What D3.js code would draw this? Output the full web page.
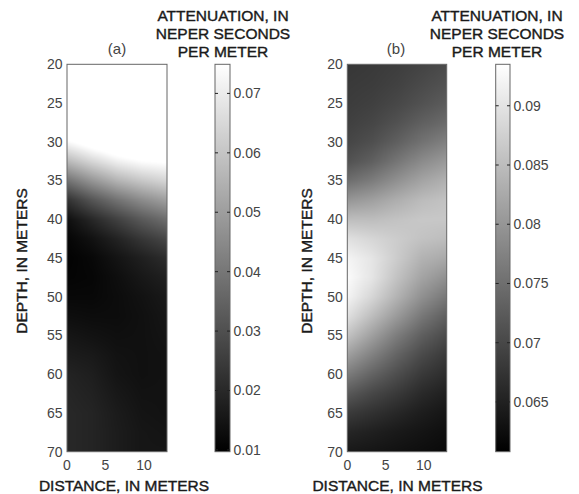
<!DOCTYPE html>
<html><head><meta charset="utf-8">
<script src="https://cdn.jsdelivr.net/npm/d3@7"></script>
<style>body{margin:0;background:#fff} text{font-family:"Liberation Sans",Arial,sans-serif}</style>
</head><body><svg id="c" width="579" height="494"></svg>
<script>
// ---- data ----
const distances = [0, 3.25, 6.5, 9.75, 13];
const depths = [20, 22.5, 25, 27.5, 30, 32.5, 35, 37.5, 40, 42.5, 45, 47.5, 50, 52.5, 55, 57.5, 60, 62.5, 65, 67.5, 70];
const attenA = [
  [0.0900, 0.0900, 0.0900, 0.0900, 0.0900],
  [0.0900, 0.0900, 0.0900, 0.0900, 0.0900],
  [0.0900, 0.0900, 0.0900, 0.0900, 0.0900],
  [0.0900, 0.0900, 0.0900, 0.0900, 0.0900],
  [0.0737, 0.0801, 0.0852, 0.0891, 0.0916],
  [0.0571, 0.0648, 0.0712, 0.0750, 0.0763],
  [0.0391, 0.0481, 0.0558, 0.0609, 0.0648],
  [0.0225, 0.0315, 0.0391, 0.0456, 0.0507],
  [0.0135, 0.0199, 0.0263, 0.0327, 0.0379],
  [0.0110, 0.0143, 0.0187, 0.0238, 0.0281],
  [0.0102, 0.0117, 0.0148, 0.0179, 0.0212],
  [0.0107, 0.0112, 0.0133, 0.0158, 0.0179],
  [0.0117, 0.0117, 0.0128, 0.0143, 0.0161],
  [0.0133, 0.0128, 0.0128, 0.0138, 0.0153],
  [0.0153, 0.0143, 0.0135, 0.0138, 0.0148],
  [0.0169, 0.0161, 0.0143, 0.0138, 0.0143],
  [0.0187, 0.0174, 0.0148, 0.0138, 0.0143],
  [0.0194, 0.0182, 0.0158, 0.0143, 0.0143],
  [0.0199, 0.0189, 0.0166, 0.0148, 0.0143],
  [0.0199, 0.0189, 0.0169, 0.0153, 0.0148],
  [0.0199, 0.0189, 0.0169, 0.0153, 0.0153]
];
const attenB = [
  [0.0678, 0.0682, 0.0687, 0.0695, 0.0704],
  [0.0682, 0.0685, 0.0692, 0.0703, 0.0713],
  [0.0685, 0.0690, 0.0700, 0.0713, 0.0726],
  [0.0690, 0.0698, 0.0713, 0.0731, 0.0746],
  [0.0698, 0.0710, 0.0731, 0.0755, 0.0774],
  [0.0713, 0.0731, 0.0759, 0.0787, 0.0806],
  [0.0749, 0.0768, 0.0794, 0.0819, 0.0836],
  [0.0800, 0.0813, 0.0832, 0.0849, 0.0858],
  [0.0851, 0.0851, 0.0858, 0.0864, 0.0864],
  [0.0896, 0.0883, 0.0870, 0.0858, 0.0851],
  [0.0922, 0.0902, 0.0870, 0.0838, 0.0826],
  [0.0931, 0.0902, 0.0858, 0.0819, 0.0794],
  [0.0922, 0.0883, 0.0838, 0.0794, 0.0762],
  [0.0896, 0.0851, 0.0806, 0.0762, 0.0730],
  [0.0858, 0.0813, 0.0768, 0.0730, 0.0704],
  [0.0813, 0.0774, 0.0736, 0.0704, 0.0682],
  [0.0768, 0.0736, 0.0708, 0.0682, 0.0666],
  [0.0723, 0.0700, 0.0682, 0.0662, 0.0649],
  [0.0685, 0.0672, 0.0659, 0.0646, 0.0636],
  [0.0657, 0.0649, 0.0641, 0.0634, 0.0627],
  [0.0640, 0.0636, 0.0631, 0.0626, 0.0621]
];
const xTicks = [0, 5, 10];
const yTicks = [20, 25, 30, 35, 40, 45, 50, 55, 60, 65, 70];
const cbTicksA = [0.01, 0.02, 0.03, 0.04, 0.05, 0.06, 0.07];
const cbTicksB = [0.065, 0.07, 0.075, 0.08, 0.085, 0.09];
const cbDomainA = [0.0097, 0.0749];
const cbDomainB = [0.0608, 0.0935];
const panelLabels = ["(a)", "(b)"];
const cbTitle = ["ATTENUATION, IN", "NEPER SECONDS", "PER METER"];
const xTitle = "DISTANCE, IN METERS";
const yTitle = "DEPTH, IN METERS";

// ---- layout ----
const plotTop = 64.3, plotBottom = 451.7;
const layout = [
  {px0: 67, px1: 167, cb0: 215, cb1: 230, lab: 117, cbt: 223, yl: 22, xl: 124, data: attenA, dom: cbDomainA, ticks: cbTicksA, name: panelLabels[0]},
  {px0: 347.3, px1: 446.7, cb0: 495.7, cb1: 510, lab: 396, cbt: 497, yl: 307, xl: 397.5, data: attenB, dom: cbDomainB, ticks: cbTicksB, name: panelLabels[1]}
];

const svg = d3.select("#c");
const defs = svg.append("defs");
const grad = defs.append("linearGradient").attr("id", "cbg").attr("x1", 0).attr("y1", 1).attr("x2", 0).attr("y2", 0);
grad.append("stop").attr("offset", "0%").attr("stop-color", "#000");
grad.append("stop").attr("offset", "100%").attr("stop-color", "#fff");

function sample(grid, xv, yv) {
  const xi = Math.max(0, Math.min(distances.length - 2, d3.bisectRight(distances, xv) - 1));
  const yi = Math.max(0, Math.min(depths.length - 2, d3.bisectRight(depths, yv) - 1));
  const tx = Math.max(0, Math.min(1, (xv - distances[xi]) / (distances[xi + 1] - distances[xi])));
  const ty = Math.max(0, Math.min(1, (yv - depths[yi]) / (depths[yi + 1] - depths[yi])));
  const a = grid[yi][xi], b = grid[yi][xi + 1], c = grid[yi + 1][xi], d = grid[yi + 1][xi + 1];
  return (a * (1 - tx) + b * tx) * (1 - ty) + (c * (1 - tx) + d * tx) * ty;
}

function title(sel) {
  return sel.attr("font-size", 15.5).attr("fill", "#1a1a1a").attr("stroke", "#1a1a1a").attr("stroke-width", 0.4);
}

layout.forEach(p => {
  const x = d3.scaleLinear().domain([0, 13]).range([p.px0, p.px1]);
  const y = d3.scaleLinear().domain([20, 70]).range([plotTop, plotBottom]);
  const color = d3.scaleLinear().domain(p.dom).range(["#000", "#fff"]).clamp(true);
  const W = Math.round(p.px1 - p.px0) * 2, H = Math.round(plotBottom - plotTop) * 2;
  const cv = document.createElement("canvas");
  cv.width = W; cv.height = H;
  const ctx = cv.getContext("2d");
  const img = ctx.createImageData(W, H);
  const xs = d3.scaleLinear().domain([0, W]).range([p.px0, p.px1]);
  const ys = d3.scaleLinear().domain([0, H]).range([plotTop, plotBottom]);
  for (let j = 0; j < H; j++) {
    const dv = y.invert(ys(j + 0.5));
    for (let i = 0; i < W; i++) {
      const xv = x.invert(xs(i + 0.5));
      const c = d3.rgb(color(sample(p.data, xv, dv)));
      const k = (j * W + i) * 4;
      img.data[k] = c.r; img.data[k + 1] = c.g; img.data[k + 2] = c.b; img.data[k + 3] = 255;
    }
  }
  ctx.putImageData(img, 0, 0);
  svg.append("image").attr("x", p.px0).attr("y", plotTop).attr("width", p.px1 - p.px0).attr("height", plotBottom - plotTop)
    .attr("preserveAspectRatio", "none").attr("href", cv.toDataURL());
  svg.append("rect").attr("x", p.px0).attr("y", plotTop).attr("width", p.px1 - p.px0).attr("height", plotBottom - plotTop)
    .attr("fill", "none").attr("stroke", "#666").attr("stroke-width", 1);

  // y tick labels
  svg.append("g").selectAll("text").data(yTicks).join("text")
    .attr("x", p.px0 - 4.5).attr("y", d => y(d)).attr("dy", "0.35em").attr("text-anchor", "end")
    .attr("font-size", 14).attr("fill", "#444").text(d => d);
  // x tick labels
  svg.append("g").selectAll("text").data(xTicks).join("text")
    .attr("x", d => x(d)).attr("y", 469.5).attr("text-anchor", "middle")
    .attr("font-size", 14).attr("fill", "#444").text(d => d);
  // axis titles
  title(svg.append("text").attr("x", p.xl).attr("y", 490.5).attr("text-anchor", "middle")).text(xTitle);
  title(svg.append("text").attr("transform", `translate(${p.yl},261) rotate(-90)`).attr("dy", "0.35em")
    .attr("text-anchor", "middle")).text(yTitle);
  // panel label
  svg.append("text").attr("x", p.lab).attr("y", 54).attr("text-anchor", "middle")
    .attr("font-size", 15).attr("fill", "#444").text(p.name);

  // colorbar
  const cy = d3.scaleLinear().domain(p.dom).range([plotBottom, plotTop]);
  svg.append("rect").attr("x", p.cb0).attr("y", plotTop).attr("width", p.cb1 - p.cb0).attr("height", plotBottom - plotTop)
    .attr("fill", "url(#cbg)").attr("stroke", "#666").attr("stroke-width", 1);
  const tg = svg.append("g").selectAll("g").data(p.ticks).join("g");
  tg.append("line").attr("x1", p.cb0).attr("x2", p.cb0 + 3).attr("y1", d => cy(d)).attr("y2", d => cy(d)).attr("stroke", "#222");
  tg.append("line").attr("x1", p.cb1 - 3).attr("x2", p.cb1).attr("y1", d => cy(d)).attr("y2", d => cy(d)).attr("stroke", "#222");
  tg.append("text").attr("x", p.cb1 + 3.5).attr("y", d => cy(d)).attr("dy", "0.35em")
    .attr("font-size", 14).attr("fill", "#444").text(d => String(d));
  title(svg.append("g").selectAll("text").data(cbTitle).join("text")
    .attr("x", p.cbt).attr("y", (d, i) => 21 + i * 17.8).attr("text-anchor", "middle")).text(d => d);
});
</script></body></html>
